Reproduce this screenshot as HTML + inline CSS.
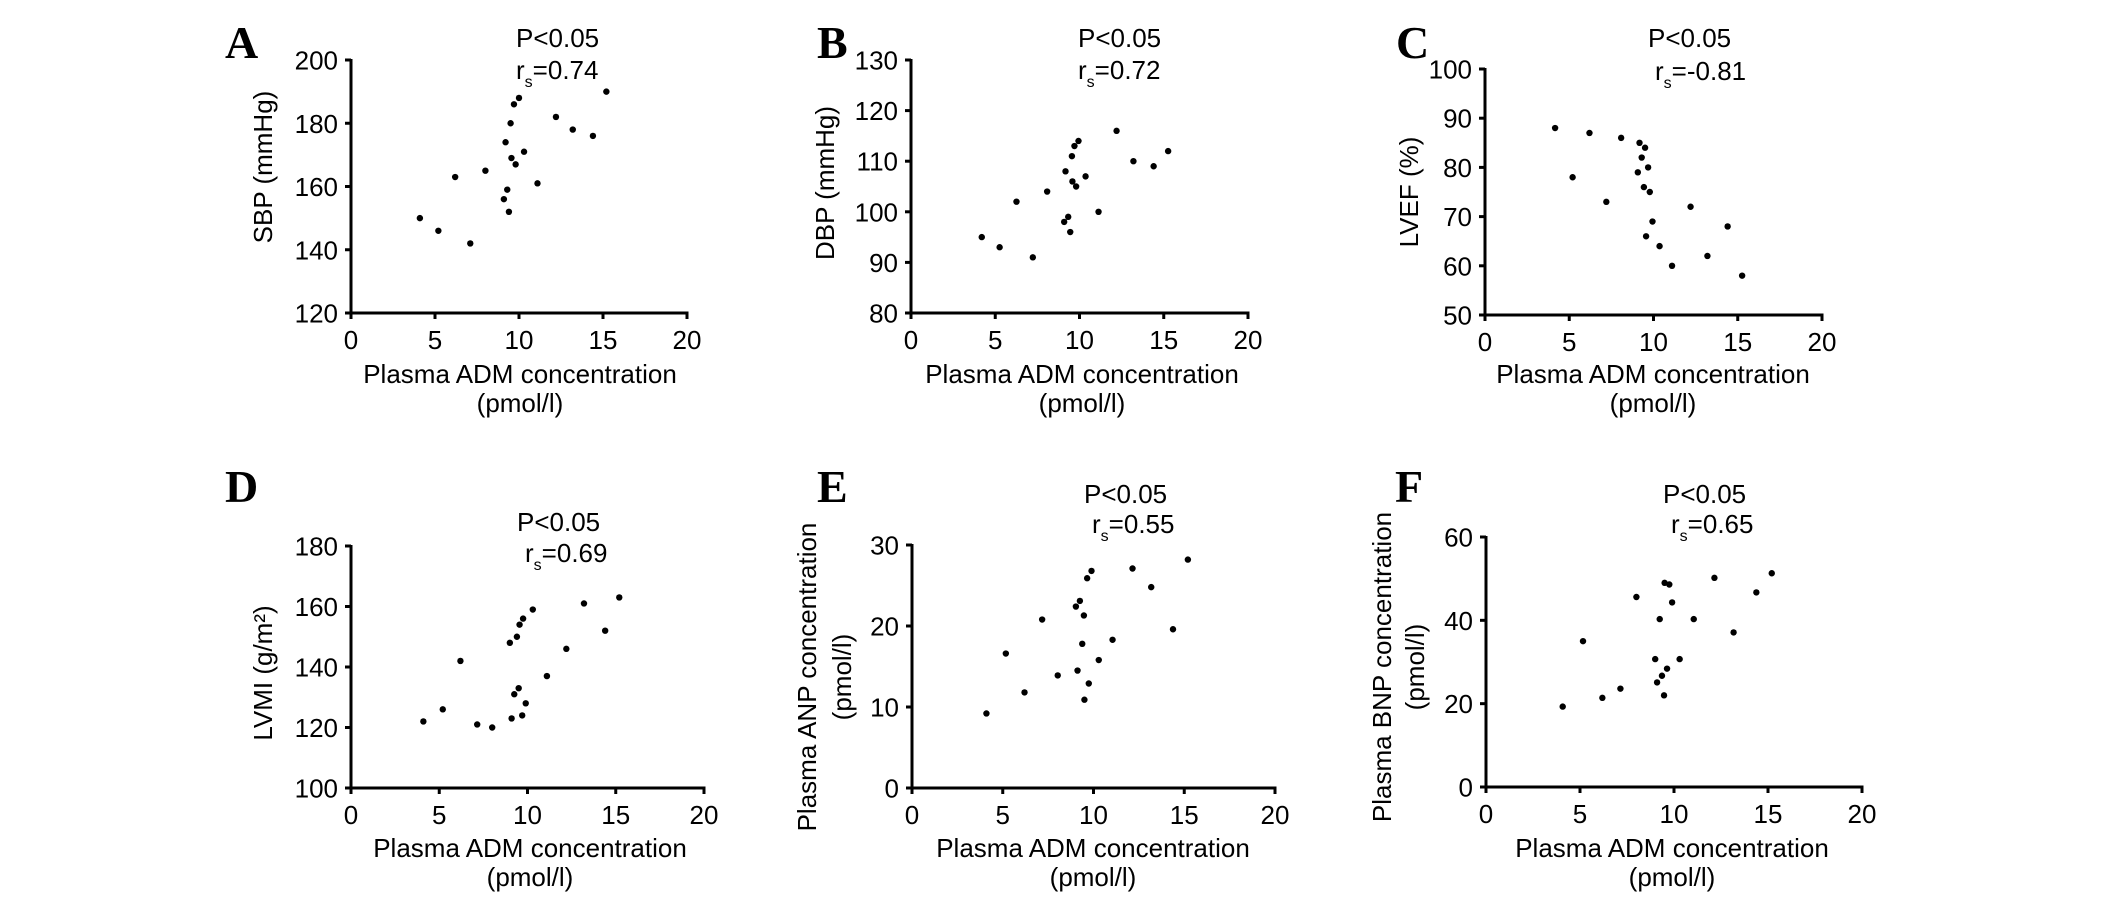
<!DOCTYPE html>
<html><head><meta charset="utf-8">
<style>
html,body{margin:0;padding:0;background:#fff;}
svg{display:block;font-family:"Liberation Sans",Arial,sans-serif;}
.tick{font-size:26px;fill:#000;}
.ttl{font-size:26px;fill:#000;}
.lbl{font-family:"Liberation Serif","Times New Roman",serif;font-weight:bold;font-size:46px;fill:#000;}
</style></head>
<body>
<svg id="fig" width="2126" height="900" viewBox="0 0 2126 900" xmlns="http://www.w3.org/2000/svg"></svg>
<script>
const xTicks = [0,5,10,15,20];
const admA = [4.1,5.2,6.2,7.1,8.0,9.1,9.2,9.3,9.4,9.5,9.55,9.7,9.8,10.0,10.3,11.1,12.2,13.2,14.4,15.2];
const sbp  = [150,146,163,142,165,156,174,159,152,180,169,186,167,188,171,161,182,178,176,190];
const admB = [4.2,5.26,6.26,7.23,8.08,9.09,9.17,9.33,9.45,9.55,9.58,9.7,9.8,9.94,10.36,11.13,12.2,13.2,14.4,15.26];
const dbp  = [95,93,102,91,104,98,108,99,96,111,106,113,105,114,107,100,116,110,109,112];
const admC = [4.16,5.2,6.2,7.2,8.08,9.17,9.07,9.3,9.43,9.5,9.68,9.78,9.94,9.56,10.36,11.1,12.2,13.2,14.4,15.26];
const lvef = [88,78,87,73,86,85,79,82,76,84,80,75,69,66,64,60,72,62,68,58];
const admD = [4.1,5.2,6.2,7.15,8.0,9.0,9.1,9.25,9.4,9.5,9.55,9.7,9.75,9.9,10.3,11.1,12.2,13.2,14.4,15.2];
const lvmi = [122,126,142,121,120,148,123,131,150,133,154,124,156,128,159,137,146,161,152,163];
const admE = [4.1,5.17,6.2,7.17,8.03,9.03,9.12,9.25,9.38,9.47,9.5,9.65,9.74,9.89,10.29,11.05,12.15,13.18,14.38,15.2];
const anp  = [9.2,16.6,11.8,20.8,13.9,22.4,14.5,23.1,17.8,21.3,10.9,25.9,12.9,26.8,15.8,18.3,27.1,24.8,19.6,28.2];
const admF = [4.08,5.16,6.19,7.15,8.0,9.0,9.1,9.24,9.36,9.47,9.5,9.63,9.75,9.9,10.3,11.05,12.15,13.17,14.38,15.2];
const bnp  = [19.3,35,21.4,23.6,45.6,30.7,25.1,40.3,26.7,22.0,49.0,28.4,48.6,44.3,30.7,40.3,50.2,37.1,46.7,51.3];
const yTicksA = [120,140,160,180,200];
const yTicksB = [80,90,100,110,120,130];
const yTicksC = [50,60,70,80,90,100];
const yTicksD = [100,120,140,160,180];
const yTicksE = [0,10,20,30];
const yTicksF = [0,20,40,60];

const NS = "http://www.w3.org/2000/svg";
const svg = document.getElementById('fig');
function mk(tag, attrs, parent){
  const e = document.createElementNS(NS, tag);
  for (const k in attrs) e.setAttribute(k, attrs[k]);
  (parent||svg).appendChild(e);
  return e;
}
const panels = [
 {id:'a',L:'A',lx:225,ly:58,x0:351,x1:687,yb:313,yt:60,ymin:120,ymax:200,yt_:yTicksA,xs:admA,ys:sbp,
  px:516,pb:47,rx:516,rb:79,r:'=0.74',yt1:'SBP (mmHg)',yt2:null,ytx:[263],ytc:167,xc:520,xb:383},
 {id:'b',L:'B',lx:817,ly:58,x0:911,x1:1248,yb:313,yt:60,ymin:80,ymax:130,yt_:yTicksB,xs:admB,ys:dbp,
  px:1078,pb:47,rx:1078,rb:79,r:'=0.72',yt1:'DBP (mmHg)',yt2:null,ytx:[825],ytc:183,xc:1082,xb:383},
 {id:'c',L:'C',lx:1396,ly:58,x0:1485,x1:1822,yb:315,yt:69,ymin:50,ymax:100,yt_:yTicksC,xs:admC,ys:lvef,
  px:1648,pb:47,rx:1655,rb:80,r:'=-0.81',yt1:'LVEF (%)',yt2:null,ytx:[1409],ytc:192,xc:1653,xb:383},
 {id:'d',L:'D',lx:225,ly:502,x0:351,x1:704,yb:788,yt:546,ymin:100,ymax:180,yt_:yTicksD,xs:admD,ys:lvmi,
  px:517,pb:531,rx:525,rb:562,r:'=0.69',yt1:'LVMI (g/m²)',yt2:null,ytx:[263],ytc:673,xc:530,xb:857},
 {id:'e',L:'E',lx:817,ly:502,x0:912,x1:1275,yb:788,yt:545,ymin:0,ymax:30,yt_:yTicksE,xs:admE,ys:anp,
  px:1084,pb:503,rx:1092,rb:533,r:'=0.55',yt1:'Plasma ANP concentration',yt2:'(pmol/l)',ytx:[807,842],ytc:677,xc:1093,xb:857},
 {id:'f',L:'F',lx:1395,ly:502,x0:1486,x1:1862,yb:787,yt:537,ymin:0,ymax:60,yt_:yTicksF,xs:admF,ys:bnp,
  px:1663,pb:503,rx:1671,rb:533,r:'=0.65',yt1:'Plasma BNP concentration',yt2:'(pmol/l)',ytx:[1382,1415],ytc:667,xc:1672,xb:857}
];
panels.forEach(p=>{
  const g = mk('g',{});
  
  
  const sx = v => p.x0 + (v-0)/(20-0)*(p.x1-p.x0);
  const sy = v => p.yb - (v-p.ymin)/(p.ymax-p.ymin)*(p.yb-p.yt);
  const lab = mk('text',{x:p.lx,y:p.ly,class:'lbl'},g); lab.textContent=p.L;
  
  
  const ya = mk('line',{x1:p.x0,y1:p.yt-1,x2:p.x0,y2:p.yb+1.5,stroke:'#000','stroke-width':3},g);
  
  
  const xa = mk('line',{x1:p.x0-1.5,y1:p.yb,x2:p.x1+1.5,y2:p.yb,stroke:'#000','stroke-width':3},g);
  
  
  xTicks.forEach(t=>{
    const X = sx(t);
    const tl = mk('line',{x1:X,y1:p.yb,x2:X,y2:p.yb+6,stroke:'#000','stroke-width':3},g);
    
    
    const tx = mk('text',{x:X,y:p.yb+36,'text-anchor':'middle',class:'tick'},g); tx.textContent=t;
    
    
  });
  p.yt_.forEach(t=>{
    const Y = sy(t);
    const tl = mk('line',{x1:p.x0-6,y1:Y,x2:p.x0,y2:Y,stroke:'#000','stroke-width':3},g);
    
    
    const tx = mk('text',{x:p.x0-13,y:Y+9.5,'text-anchor':'end',class:'tick'},g); tx.textContent=t;
    
    
  });
  const xt1 = mk('text',{x:p.xc,y:p.xb,'text-anchor':'middle',class:'ttl'},g); xt1.textContent='Plasma ADM concentration';
  
  
  const xt2 = mk('text',{x:p.xc,y:p.xb+29,'text-anchor':'middle',class:'ttl'},g); xt2.textContent='(pmol/l)';
  
  
  const y1 = mk('text',{x:0,y:0,'text-anchor':'middle',class:'ttl',transform:`translate(${p.ytx[0]+9},${p.ytc}) rotate(-90)`},g);
  y1.textContent=p.yt1;
  
  
  if(p.yt2){
    const y2 = mk('text',{x:0,y:0,'text-anchor':'middle',class:'ttl',transform:`translate(${p.ytx[1]+9},${p.ytc}) rotate(-90)`},g);
    y2.textContent=p.yt2;
    
    
  }
  const pt = mk('text',{x:p.px,y:p.pb,class:'ttl'},g); pt.textContent='P<0.05';
  
  
  const rt = mk('text',{x:p.rx,y:p.rb,class:'ttl'},g);
  
  
  const r1 = mk('tspan',{},rt); r1.textContent='r';
  const r2 = mk('tspan',{dy:8,'font-size':'16px'},rt); r2.textContent='s';
  const r3 = mk('tspan',{dy:-8},rt); r3.textContent=p.r;
  p.xs.forEach((v,i)=>{
    const c = mk('circle',{cx:sx(v),cy:sy(p.ys[i]),r:3.2,fill:'#000'},g);
    
    
  });
});
</script>
</body></html>
